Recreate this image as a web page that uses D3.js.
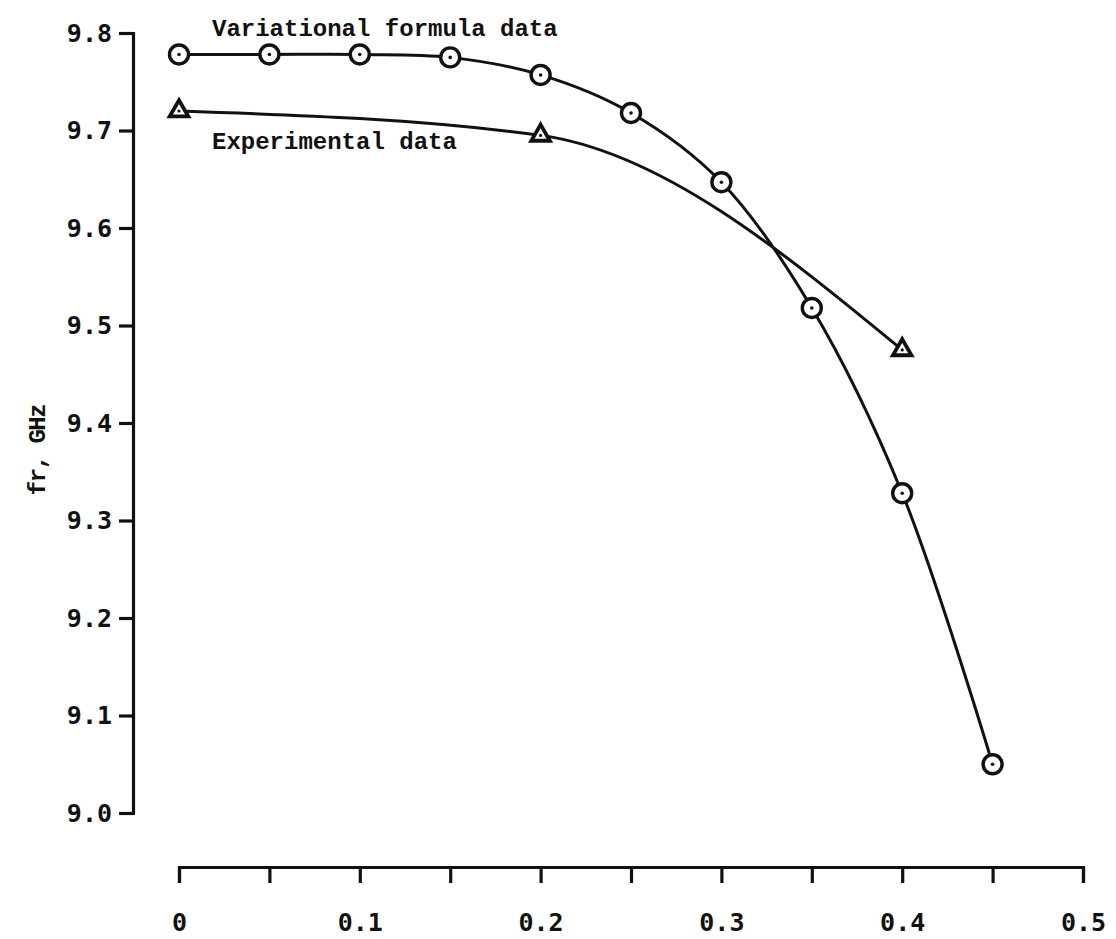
<!DOCTYPE html>
<html>
<head>
<meta charset="utf-8">
<script src="https://cdn.jsdelivr.net/npm/d3@7"></script>
<style>
	body { margin: 0; background: #fff; }
	.axis text { font-family: "DejaVu Sans Mono", monospace; font-size: 25px; font-weight: bold; fill: #111; }
	.note { font-family: "Liberation Mono", "Courier New", monospace; font-size: 24px; font-weight: bold; fill: #111; }
</style>
</head>
<body>
<div class="c-svg" style="width:1116px;height:939px"></div>
<script>
//DATA
//-------------------------------------------------------------------------

//x positions of the computed points
const varX = [0, 0.05, 0.1, 0.15, 0.2, 0.25, 0.3, 0.35, 0.4, 0.45];
//resonant frequency from variational formula, GHz
const varY = [9.778, 9.778, 9.778, 9.775, 9.757, 9.718, 9.647, 9.518, 9.328, 9.05];

//measured points
const expX = [0, 0.2, 0.4];
const expY = [9.72, 9.695, 9.475];

//tick labels
const xTicks = [0, 0.05, 0.1, 0.15, 0.2, 0.25, 0.3, 0.35, 0.4, 0.45, 0.5];
const xLabels = ["0", "", "0.1", "", "0.2", "", "0.3", "", "0.4", "", "0.5"];
const yTicks = [9.0, 9.1, 9.2, 9.3, 9.4, 9.5, 9.6, 9.7, 9.8];

const yTitle = "fr, GHz";
const varName = "Variational formula data";
const expName = "Experimental data";


//INITIALISATION
//-------------------------------------------------------------------------

const opts = {
	container: ".c-svg",
	width: 1116,
	height: 939
};

const svg = d3.select(opts.container)
	.append("svg")
	.attr("width", opts.width)
	.attr("height", opts.height);

//scales
const x = d3.scaleLinear()
	.domain([0, 0.5])
	.range([179, 1083]);

const y = d3.scaleLinear()
	.domain([9.0, 9.8])
	.range([813, 33]);


//AXIS
//-------------------------------------------------------------------------

const yAxis = d3.axisLeft(y)
	.tickValues(yTicks)
	.tickFormat(d3.format(".1f"))
	.tickSize(14)
	.tickPadding(7);

svg.append("g")
	.attr("class", "axis y_axis")
	.attr("transform", `translate(${133} 0)`)
	.call(yAxis);

const xAxis = d3.axisBottom(x)
	.tickValues(xTicks)
	.tickFormat((d, i) => xLabels[i])
	.tickSize(16);

svg.append("g")
	.attr("class", "axis x_axis")
	.attr("transform", `translate(0 ${867})`)
	.call(xAxis);

svg.select(".x_axis")
	.selectAll("text")
	.attr("y", 46);

svg.selectAll(".axis path")
	.attr("fill", "none")
	.attr("stroke", "#111")
	.attr("stroke-width", 3.2);

svg.selectAll(".axis line")
	.attr("stroke", "#111")
	.attr("stroke-width", 3.2);

//y title
svg.append("text")
	.attr("class", "note")
	.attr("text-anchor", "middle")
	.attr("transform", `translate(45 450) rotate(-90)`)
	.style("font-size", "24px")
	.style("letter-spacing", "-1.5px")
	.text(yTitle);


//CURVES
//-------------------------------------------------------------------------

const varData = varX.map((d, i) => [d, varY[i]]);
const expData = expX.map((d, i) => [d, expY[i]]);

const varLine = d3.line()
	.x((d) => x(d[0]))
	.y((d) => y(d[1]))
	.curve(d3.curveCatmullRom.alpha(0.5));

const expLine = d3.line()
	.x((d) => x(d[0]))
	.y((d) => y(d[1]))
	.curve(d3.curveMonotoneX);

svg.append("path")
	.datum(varData)
	.attr("d", varLine)
	.attr("fill", "none")
	.attr("stroke", "#111")
	.attr("stroke-width", 3);

svg.append("path")
	.datum(expData)
	.attr("d", expLine)
	.attr("fill", "none")
	.attr("stroke", "#111")
	.attr("stroke-width", 3);


//MARKERS
//-------------------------------------------------------------------------

const circles = svg.append("g")
	.selectAll("g")
	.data(varData)
	.join("g")
	.attr("transform", (d) => `translate(${x(d[0])} ${y(d[1])})`);

circles.append("circle")
	.attr("r", 9.5)
	.attr("fill", "#fff")
	.attr("stroke", "#111")
	.attr("stroke-width", 3.4);

circles.append("circle")
	.attr("r", 1.8)
	.attr("fill", "#111");

const tri = d3.symbol().type(d3.symbolTriangle).size(150);

const triangles = svg.append("g")
	.selectAll("g")
	.data(expData)
	.join("g")
	.attr("transform", (d) => `translate(${x(d[0])} ${y(d[1])})`);

triangles.append("path")
	.attr("d", tri)
	.attr("fill", "#fff")
	.attr("stroke", "#111")
	.attr("stroke-width", 3.8)
	.attr("stroke-linejoin", "miter");

triangles.append("circle")
	.attr("r", 1.6)
	.attr("fill", "#111");


//ANNOTATIONS
//-------------------------------------------------------------------------

svg.append("text")
	.attr("class", "note")
	.attr("x", 212)
	.attr("y", 36)
	.text(varName);

svg.append("text")
	.attr("class", "note")
	.attr("x", 212)
	.attr("y", 149)
	.text(expName);
</script>
</body>
</html>
